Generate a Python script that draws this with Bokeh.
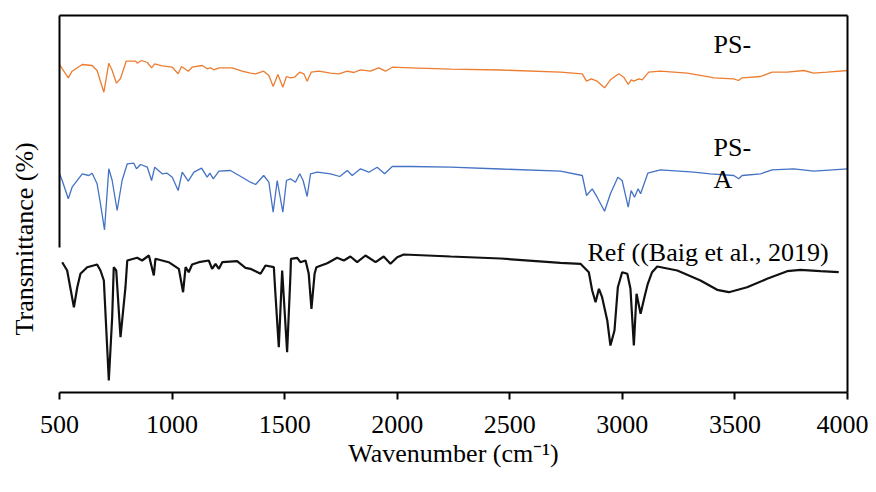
from bokeh.plotting import figure
from bokeh.models import Range1d, FixedTicker, LinearAxis, Label, Title
from bokeh.embed import file_html
from bokeh.resources import INLINE

# ---------------- data ----------------
ps_b_wn = [500, 539, 556, 601, 645, 667, 697, 719, 734, 753, 771, 796, 838, 845, 864, 890,
           909, 923, 956, 1001, 1027, 1042, 1072, 1089, 1134, 1156, 1171, 1185, 1208, 1267,
           1311, 1348, 1371, 1407, 1430, 1449, 1470, 1492, 1508, 1526, 1544, 1567, 1585,
           1600, 1618, 1652, 1704, 1741, 1778, 1807, 1837, 1881, 1918, 1948, 1978, 2059,
           2237, 2459, 2725, 2822, 2841, 2862, 2888, 2921, 2947, 2984, 3006, 3026, 3039,
           3051, 3073, 3088, 3117, 3169, 3288, 3391, 3406, 3494, 3516, 3532, 3614, 3665,
           3732, 3806, 3850, 3910, 4000]
ps_b_t = [328, 314.7, 321.3, 328, 327, 322, 300.3, 329.3, 322, 309.3, 314, 331.3, 331.3,
          329.3, 332, 330, 324.7, 328.7, 326.7, 325.3, 318.7, 326, 321.3, 325.3, 327, 323.7,
          324.7, 322.7, 324.7, 324.7, 321.3, 319.3, 318.7, 321.3, 317, 306, 318, 305.3, 316,
          314.7, 315.3, 320.3, 318.7, 311.3, 320.3, 321.3, 319.3, 318.7, 321.3, 320, 322.7,
          321.3, 324.7, 321.3, 325.3, 324.7, 323.3, 322.5, 320.3, 318.7, 311.3, 313.7, 311.3,
          304.7, 312.7, 318.7, 315.3, 308, 312.7, 311.3, 313.7, 312.7, 320.3, 321.3, 319.3,
          315.3, 314.7, 313.7, 312, 314.7, 316, 320.3, 320.3, 322, 319.3, 320.3, 322]

ps_a_wn = [500, 512, 539, 556, 601, 630, 645, 667, 682, 700, 719, 734, 756, 778, 801, 830,
           842, 860, 890, 909, 923, 956, 978, 1001, 1027, 1045, 1072, 1097, 1131, 1156, 1168,
           1183, 1208, 1259, 1311, 1348, 1371, 1407, 1430, 1449, 1467, 1492, 1508, 1526, 1548,
           1567, 1582, 1600, 1615, 1645, 1704, 1745, 1778, 1800, 1837, 1874, 1911, 1944, 1978,
           2059, 2237, 2459, 2725, 2822, 2841, 2866, 2888, 2921, 2947, 2980, 2999, 3026, 3039,
           3054, 3070, 3081, 3113, 3169, 3317, 3391, 3495, 3517, 3532, 3614, 3665, 3761, 3850,
           4000]
ps_a_t = [218.7, 212, 193.7, 205.3, 218.7, 217, 219.3, 208.7, 188.7, 162.7, 223.7, 212, 182,
          212, 228.7, 229.3, 223.7, 228, 225.3, 212, 225.3, 218.7, 219.3, 215.3, 202, 220.3,
          211.3, 220.3, 224.3, 215.3, 219.3, 213.7, 221.3, 222, 215.3, 210.3, 208, 217, 210.3,
          180.3, 212, 180.3, 212, 213.7, 210.3, 218.7, 212, 196, 218.7, 220.3, 218.7, 216, 222,
          217, 223.7, 220.3, 225.3, 218.7, 226, 226, 225.3, 223.5, 221.3, 217, 197, 203.7,
          195.3, 181.3, 198.7, 215.3, 212, 185.3, 202, 195.3, 203.7, 198.7, 219.3, 222.7,
          220.3, 218.7, 217, 213.7, 217, 218.7, 222.7, 223.7, 221.3, 223.7]

ref_wn = [512, 534, 564, 579, 593, 623, 667, 682, 697, 719, 734, 741, 752, 771, 793, 801,
          845, 867, 897, 919, 926, 985, 1030, 1049, 1060, 1074, 1089, 1119, 1163, 1178, 1193,
          1208, 1223, 1289, 1326, 1348, 1393, 1415, 1452, 1459, 1474, 1489, 1511, 1526, 1528,
          1556, 1570, 1593, 1607, 1619, 1633, 1641, 1689, 1733, 1763, 1792, 1822, 1859, 1904,
          1940, 1970, 2000, 2029, 2237, 2459, 2725, 2814, 2851, 2866, 2881, 2896, 2910, 2933,
          2947, 2965, 2980, 2999, 3022, 3036, 3051, 3063, 3081, 3098, 3113, 3132, 3155, 3244,
          3347, 3421, 3473, 3554, 3643, 3732, 3791, 3880, 3961]
ref_t = [130.3, 122, 85.3, 105.3, 118.7, 125.3, 128, 122, 112, 12, 75.3, 125.3, 122, 55.3,
         105.3, 132, 134.7, 132, 137, 117, 133.7, 130.3, 123.7, 100.3, 125.3, 120.3, 128, 130.3,
         132, 123.7, 128.7, 123.7, 130.3, 131.3, 124.7, 123.7, 118.7, 127, 125.3, 98.7, 45.3,
         122, 40.3, 118.7, 133.7, 134.7, 130.3, 132, 118.7, 83.7, 118.7, 125.3, 129.3, 134.7,
         132, 136, 130.3, 137, 130.3, 136, 128.7, 135.3, 138, 136, 134, 129.7, 128.7, 120.3,
         102, 90.3, 103.7, 95.3, 72, 47, 62, 105.3, 120.3, 118.7, 103.7, 47, 98.7, 78.7, 95.3,
         108.7, 120.3, 126, 122, 112, 102.7, 100.3, 105.3, 113.7, 121.3, 122.7, 121.3, 120.3]

x_ticks = [500, 1000, 1500, 2000, 2500, 3000, 3500, 4000]

FONT = "Liberation Serif"
FS = "26px"

p = figure(width=868, height=484, output_backend="svg", toolbar_location=None,
           x_range=Range1d(500, 4000), y_range=Range1d(0, 377),
           min_border_left=59, min_border_right=21, min_border_top=15, min_border_bottom=92,
           x_axis_location=None, y_axis_location=None)
p.outline_line_color = None
p.xgrid.visible = False
p.ygrid.visible = False
p.background_fill_color = "white"
p.border_fill_color = "white"

p.line(ps_b_wn, ps_b_t, line_color="#ED7D31", line_width=1.3)
p.line(ps_a_wn, ps_a_t, line_color="#4472C4", line_width=1.3)
p.line(ref_wn, ref_t, line_color="#111111", line_width=2.2)

# bottom axis
xb = LinearAxis(ticker=FixedTicker(ticks=x_ticks), axis_label="Wavenumber (cm\u207b\u00b9)")
xb.axis_line_width = 2
xb.major_tick_line_width = 2
xb.major_tick_in = 0
xb.major_tick_out = 7
xb.minor_tick_line_color = None
xb.major_label_text_font = FONT
xb.major_label_text_font_size = FS
xb.major_label_text_color = "black"
xb.major_label_standoff = 16
xb.axis_label_text_font = FONT
xb.axis_label_text_font_size = FS
xb.axis_label_text_font_style = "normal"
xb.axis_label_text_color = "black"
xb.axis_label_standoff = 3
p.add_layout(xb, "below")

def bare_axis(**kw):
    ax = LinearAxis(ticker=FixedTicker(ticks=[]), **kw)
    ax.axis_line_width = 2
    ax.major_tick_line_color = None
    ax.minor_tick_line_color = None
    ax.major_label_text_font_size = "0px"
    return ax

p.add_layout(bare_axis(), "above")
p.add_layout(bare_axis(), "right")
yl = bare_axis(bounds=(145, 377))
yl.ticker = FixedTicker(ticks=[300])
yl.major_tick_out = 20
yl.major_tick_in = 0
yl.major_label_standoff = 0
yl.major_label_text_color = None
p.add_layout(yl, "left")

# y title
yt = Title(text="Transmittance (%)", align="left", offset=57, vertical_align="middle",
           text_font=FONT, text_font_size=FS, text_font_style="normal",
           text_color="black", standoff=0)
p.add_layout(yt, "left")

for x, y, t in [(3405, 348, "PS-"), (3405, 245, "PS-"), (3405, 213, "A"),
                (2845, 140, "Ref ((Baig et al., 2019)")]:
    p.add_layout(Label(x=x, y=y, text=t, text_align="left", text_baseline="alphabetic",
                       text_font=FONT, text_font_size=FS, text_color="black"))

open("out.html", "w").write(file_html(p, INLINE))
